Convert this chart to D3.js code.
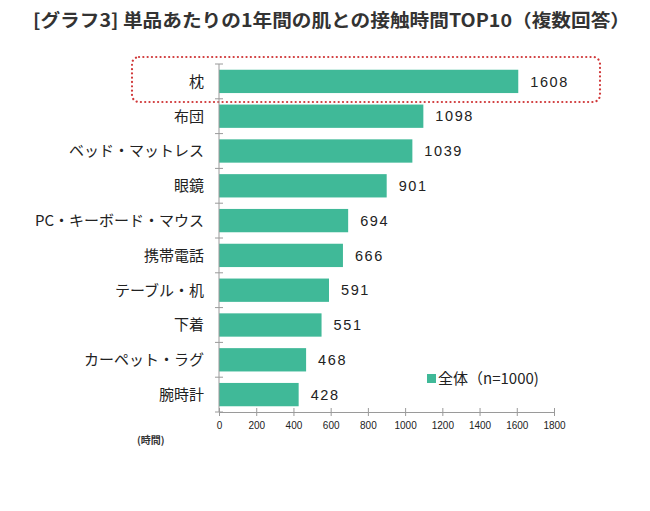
<!DOCTYPE html>
<html><head><meta charset="utf-8">
<script src="https://cdn.jsdelivr.net/npm/d3@7/dist/d3.min.js"></script>
<style>body{margin:0;background:#fff;}svg{display:block;}</style>
</head><body>
<svg id="c" width="650" height="511"></svg>
<script>
const categories = ["枕","布団","ベッド・マットレス","眼鏡","PC・キーボード・マウス","携帯電話","テーブル・机","下着","カーペット・ラグ","腕時計"];
const values = [1608,1098,1039,901,694,666,591,551,468,428];
const ticks = [0,200,400,600,800,1000,1200,1400,1600,1800];
const title = "[グラフ3] 単品あたりの1年間の肌との接触時間TOP10（複数回答）";
const legendLabel = "全体（n=1000)";
const unitLabel = "(時間)";

const svg = d3.select("#c");
const font = "'Noto Sans CJK JP', sans-serif";
const barColor = "#40b998";
const axisColor = "#9a9a9a";

const x = d3.scaleLinear().domain([0,1800]).range([219,554]);
const y = d3.scaleBand().domain(categories).range([64,412]).paddingInner(0.33).paddingOuter(0.165);

svg.append("text").attr("x",33).attr("y",27).attr("font-family",font).attr("font-size",18)
  .attr("font-weight","bold").attr("fill","#333").attr("textLength",597).attr("lengthAdjust","spacingAndGlyphs").text(title);

// highlight box
svg.append("rect").attr("x",132).attr("y",57).attr("width",468).attr("height",45).attr("rx",7)
  .attr("fill","none").attr("stroke","#d0393a").attr("stroke-width",2.2).attr("stroke-dasharray","0.1 4.2").attr("stroke-linecap","round");

svg.append("g").selectAll("rect").data(values).join("rect")
  .attr("x",x(0)).attr("y",(d,i)=>y(categories[i])).attr("width",d=>x(d)-x(0)).attr("height",y.bandwidth())
  .attr("fill",barColor);

// y axis
const yAxis = svg.append("g").attr("transform",`translate(${x(0)},0)`);
yAxis.append("line").attr("x1",0).attr("x2",0).attr("y1",64).attr("y2",412).attr("stroke",axisColor);
yAxis.selectAll("line.t").data(d3.range(categories.length+1)).join("line").attr("class","t")
  .attr("x1",-4).attr("x2",4).attr("y1",i=>64+i*y.step()).attr("y2",i=>64+i*y.step()).attr("stroke",axisColor);

svg.append("g").selectAll("text").data(categories).join("text")
  .attr("x",204).attr("y",d=>y(d)+y.bandwidth()/2)
  .attr("dy","0.36em").attr("text-anchor","end").attr("font-family",font).attr("font-size",15).attr("fill","#222").text(d=>d);

// x axis
const xAxis = d3.axisBottom(x).tickValues(ticks).tickSize(5).tickSizeOuter(0).tickFormat(d3.format("d"));
const gx = svg.append("g").attr("transform","translate(0,412)").call(xAxis);
gx.select(".domain").attr("stroke",axisColor);
gx.selectAll(".tick line").attr("stroke",axisColor).attr("y1",-4).attr("y2",4);
gx.selectAll(".tick text").attr("font-family","'Liberation Sans', sans-serif").attr("font-size",10).attr("fill","#222").attr("y",10);

// value labels
svg.append("g").selectAll("text").data(values).join("text")
  .attr("x",d=>x(d)+12).attr("y",(d,i)=>y(categories[i])+y.bandwidth()/2)
  .attr("dy","0.36em").attr("font-family","'Liberation Sans', sans-serif").attr("font-size",14.5).attr("letter-spacing",1.6).attr("fill","#222").text(d=>d);

// legend
svg.append("rect").attr("x",427).attr("y",374).attr("width",9).attr("height",9).attr("fill",barColor);
svg.append("text").attr("x",438).attr("y",384).attr("font-family",font).attr("font-size",15).attr("fill","#222").text(legendLabel);

svg.append("text").attr("x",137).attr("y",444).attr("font-family",font).attr("font-size",10).attr("font-weight","bold").attr("fill","#333").text(unitLabel);
</script>
</body></html>
